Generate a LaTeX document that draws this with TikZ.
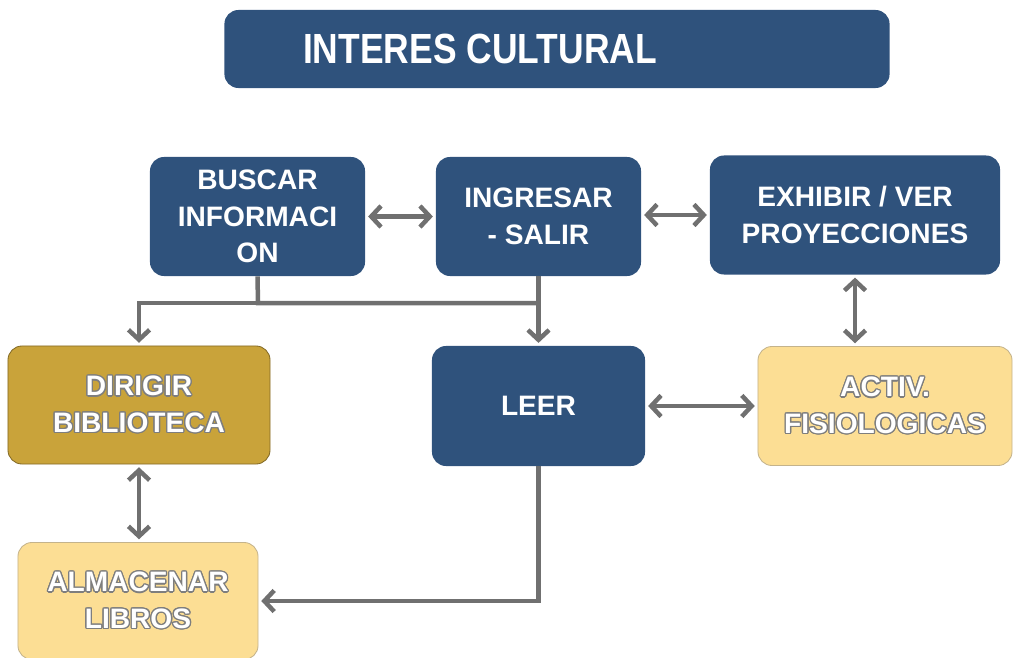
\documentclass[tikz,border=0pt]{standalone}
\usepackage{fontspec}
\setmainfont{Liberation Sans}
\usepackage{contour}
\usetikzlibrary{arrows.meta}

\definecolor{azul}{RGB}{47,82,124}
\definecolor{oro}{RGB}{201,163,58}
\definecolor{crema}{RGB}{252,222,148}
\definecolor{gris}{RGB}{112,112,112}

% texto blanco con borde gris
\contourlength{0.9pt}
\newcommand{\contorno}[1]{\contour{gris!90}{#1}}

\begin{document}
\begin{tikzpicture}[x=0.025cm,y=-0.025cm,
    caja/.style={rounded corners=0.35cm, align=center, inner sep=0pt,
        font=\bfseries\fontsize{20}{26}\selectfont, text=white},
    cajaazul/.style={caja, fill=azul},
    cajaoro/.style={caja, fill=oro, draw=oro!65!black, line width=0.6pt},
    cajacrema/.style={caja, fill=crema, draw=crema!55!gray, line width=0.6pt},
    flecha/.style={draw=gris, line width=3.2pt, shorten >=2pt,
        -{Straight Barb[length=7pt,width=15pt]}},
    dobleflecha/.style={flecha, shorten <=2pt,
        {Straight Barb[length=7pt,width=15pt]}-{Straight Barb[length=7pt,width=15pt]}},
    linea/.style={draw=gris, line width=3.2pt}]
    \useasboundingbox (0,0) rectangle (1014,658);

    % Titulo
    \node[cajaazul, minimum width=16.625cm, minimum height=1.95cm,
        font=\bfseries\fontsize{30}{36}\selectfont] (titulo) at (557,49)
        {\scalebox{0.84}[1]{INTERES CULTURAL}\hspace*{3.85cm}};

    % Fila superior
    \node[cajaazul, minimum width=5.375cm, minimum height=2.975cm] (buscar) at (257.5,216.5)
        {BUSCAR\\INFORMACI\\ON};
    \node[cajaazul, minimum width=5.125cm, minimum height=2.975cm] (ingresar) at (538.5,216.5)
        {INGRESAR\\- SALIR};
    \node[cajaazul, minimum width=7.25cm, minimum height=2.975cm] (exhibir) at (855,215)
        {EXHIBIR / VER\\PROYECCIONES};

    % Fila media
    \node[cajaoro, minimum width=6.55cm, minimum height=2.95cm] (dirigir) at (139,405)
        {\contorno{DIRIGIR}\\\contorno{BIBLIOTECA}};
    \node[cajaazul, minimum width=5.325cm, minimum height=3cm] (leer) at (538.5,406)
        {LEER};
    \node[cajacrema, minimum width=6.35cm, minimum height=2.975cm] (activ) at (885,406)
        {\contorno{ACTIV.}\\\contorno{FISIOLOGICAS}};

    % Fila inferior
    \node[cajacrema, minimum width=6cm, minimum height=2.925cm] (almacenar) at (138,601)
        {\contorno{ALMACENAR}\\\contorno{LIBROS}};

    % Conectores
    \coordinate (cruce) at (258,303);
    \draw[dobleflecha] (buscar) -- (ingresar);
    \draw[dobleflecha] (ingresar.east |- exhibir) -- (exhibir);
    \draw[linea] (buscar.south) -- (cruce) -- (cruce -| ingresar.south);
    \draw[flecha] (cruce) -| (dirigir.north);
    \draw[flecha] (ingresar.south) -- (leer.north);
    \draw[dobleflecha] (exhibir.south) -- (exhibir.south |- activ.north);
    \draw[dobleflecha] (leer) -- (activ);
    \draw[dobleflecha] (dirigir.south) -- (dirigir.south |- almacenar.north);
    \draw[flecha] (leer.south) |- (almacenar.east);
\end{tikzpicture}
\end{document}
